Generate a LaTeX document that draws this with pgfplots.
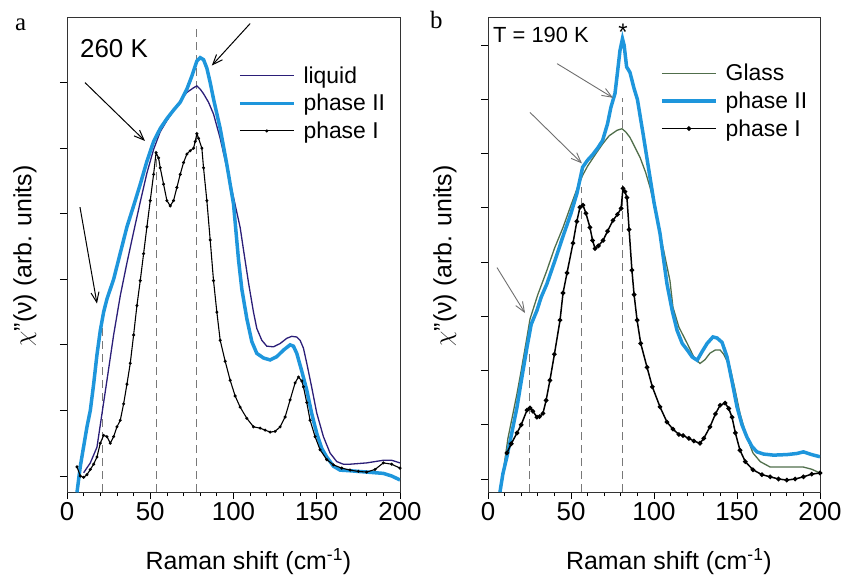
\documentclass[border=0pt]{standalone}
\usepackage{pgfplots}
\pgfplotsset{compat=1.18}
\usepackage{fontspec}
\setmainfont{Liberation Sans}
\newfontfamily\seriffont{Liberation Serif}
\usetikzlibrary{arrows.meta}
\definecolor{liquidc}{RGB}{43,30,120}
\definecolor{phIIc}{RGB}{30,150,220}
\definecolor{glassc}{RGB}{80,110,75}
\definecolor{dashc}{RGB}{120,120,120}
\definecolor{arrc}{RGB}{110,110,110}
\pgfplotsset{
  panel/.style={
    scale only axis, height=475bp,
    xmin=0, xmax=200, xtick={0,50,...,200}, minor x tick num=4,
    tick align=outside, xtick pos=bottom, ytick pos=left,
    yticklabels={},
    major tick length=7bp, minor tick length=4bp,
    every tick/.style={black, line width=0.8bp},
    axis line style={line width=0.9bp, black!80},
    tick label style={font=\fontsize{26}{30}\selectfont},
    /pgf/number format/assume math mode=true,
    xlabel={Raman shift (cm\textsuperscript{-1})},
    ylabel={$\chi$"(ν) (arb. units)},
    label style={font=\fontsize{25}{30}\selectfont},
    x label style={at={(axis description cs:0.545,-0.164)}, anchor=base},
    legend style={draw=none, fill=none, inner sep=0pt, font=\fontsize{23}{27}\selectfont, anchor=north west, row sep=5.5bp,
      /tikz/every odd column/.append style={column sep=6bp}},
    legend cell align=left,
    legend image code/.code={\draw[mark repeat=2,mark phase=2,##1] plot coordinates {(0bp,0bp) (27bp,0bp) (54bp,0bp)};},
  },
}
\begin{document}
\begin{tikzpicture}
\useasboundingbox (0,0) rectangle (844bp,-577bp);
% ---------------- panel a ----------------
\begin{axis}[panel, at={(67bp,-492bp)}, anchor=south west, width=333bp,
  ymin=-0.244, ymax=7, ytick={0,...,6},
  y label style={at={(axis description cs:-0.126,0.497)}, anchor=center},
  legend style={at={(0.513,0.9)}}]
\addplot[dashc, line width=1bp, dash pattern=on 8bp off 5bp, forget plot] coordinates {(21.6,-0.244) (21.6,2.27)};
\addplot[dashc, line width=1bp, dash pattern=on 8bp off 5bp, forget plot] coordinates {(53.5,-0.244) (53.5,4.92)};
\addplot[dashc, line width=1bp, dash pattern=on 8bp off 5bp, forget plot] coordinates {(77.5,-0.244) (77.5,6.87)};
\addplot[liquidc, line width=1.3bp] coordinates {
(10,0.05) (14,0.2) (18,0.44) (21,0.95) (24,1.46) (28,2.15) (32,2.75) (36,3.25) (40,3.72) (44,4.18) (48,4.62) (52,4.98) (56,5.25) (60,5.42) (64,5.57) (68,5.72) (72,5.85) (76,5.92) (78,5.95) (80,5.9) (82,5.83) (85,5.7) (88,5.52) (92,5.15) (96,4.7) (100,4.25) (104,3.79) (106,3.45) (109,2.95) (112,2.5) (114,2.25) (117,2.07) (120,1.98) (124,1.97) (128,2.02) (132,2.1) (135,2.13) (138,2.12) (140,2.07) (142,1.95) (144,1.72) (147,1.35) (150,0.96) (154,0.6) (158,0.35) (162,0.22) (166,0.18) (170,0.18) (180,0.2) (190,0.24) (195,0.24) (200,0.2)};
\addlegendentry{liquid}
\addplot[phIIc, line width=3.5bp] coordinates {
(6,-0.25) (8,0.15) (10,0.45) (12,0.75) (14,1.0) (16,1.4) (18,1.85) (20,2.22) (22,2.5) (24,2.7) (26,2.85) (28,3.0) (32,3.4) (36,3.8) (40,4.12) (44,4.45) (48,4.8) (52,5.1) (56,5.3) (60,5.45) (64,5.58) (68,5.7) (72,5.9) (75,6.1) (78,6.33) (80,6.38) (82,6.35) (84,6.22) (86,6.0) (88,5.75) (92,5.3) (96,4.75) (100,4.15) (103,3.3) (105,2.85) (108,2.4) (111,2.05) (114,1.87) (118,1.8) (122,1.77) (126,1.82) (130,1.92) (134,2.0) (136,1.98) (138,1.87) (141,1.6) (144,1.31) (147,0.95) (150,0.65) (153,0.42) (156,0.29) (160,0.15) (164,0.09) (170,0.08) (180,0.06) (190,0.04) (195,0.0) (200,-0.06)};
\addlegendentry{phase II}
\addplot[black, line width=1.1bp, mark=*, mark size=0.9bp] coordinates {
(6,0.14) (8,0.0) (10,-0.02) (12,0.02) (14,0.1) (16,0.18) (18,0.29) (20,0.5) (22,0.62) (24,0.6) (26,0.5) (28,0.6) (30,0.75) (32,0.85) (34,1.1) (36,1.4) (38,1.72) (40,2.15) (42,2.6) (44,2.98) (46,3.39) (48,3.8) (50,4.2) (52,4.6) (53.5,4.93) (55,4.85) (56,4.7) (58,4.45) (60,4.2) (62,4.12) (64,4.2) (66,4.4) (68,4.6) (70,4.78) (72,4.91) (74,4.96) (76,5.0) (77,5.1) (78,5.22) (79,5.15) (81,5.0) (82,4.7) (84,4.2) (86,3.6) (88,2.98) (90,2.5) (92,2.07) (95,1.75) (98,1.46) (101,1.22) (104,1.05) (108,0.88) (112,0.75) (116,0.73) (119,0.7) (122,0.67) (125,0.68) (128,0.75) (131,0.9) (134,1.16) (137,1.42) (139,1.51) (141,1.45) (142,1.36) (144,1.12) (146,0.85) (149,0.6) (152,0.4) (156,0.25) (160,0.17) (165,0.12) (170,0.09) (175,0.07) (180,0.06) (185,0.1) (190,0.2) (195,0.18) (200,0.12)};
\addlegendentry{phase I}
\draw[black, line width=1bp, -{Straight Barb[length=10bp,width=8bp]}] (axis cs:110,6.9) -- (axis cs:87,6.26);
\draw[black, line width=1bp, -{Straight Barb[length=10bp,width=8bp]}] (axis cs:10.8,6.0) -- (axis cs:46.8,5.11);
\draw[black, line width=1bp, -{Straight Barb[length=10bp,width=8bp]}] (axis cs:7.8,4.1) -- (axis cs:18,2.63);
\node[anchor=base west, inner sep=0pt, font=\fontsize{26}{30}\selectfont] at (axis cs:7.8,6.38) {260 K};
\end{axis}
% ---------------- panel b ----------------
\begin{axis}[panel, at={(488bp,-492bp)}, anchor=south west, width=332bp,
  ymin=-0.24, ymax=8.52, ytick={0,...,8},
  y label style={at={(axis description cs:-0.13,0.497)}, anchor=center},
  legend style={at={(0.518,0.905)}}]
\addplot[dashc, line width=1bp, dash pattern=on 8bp off 5bp, forget plot] coordinates {(24.7,-0.24) (24.7,2.38)};
\addplot[dashc, line width=1bp, dash pattern=on 8bp off 5bp, forget plot] coordinates {(56.6,-0.24) (56.6,5.38)};
\addplot[dashc, line width=1bp, dash pattern=on 8bp off 5bp, forget plot] coordinates {(81.3,-0.24) (81.3,7.03)};
\addplot[glassc, line width=1.3bp] coordinates {
(9,0.1) (12,0.75) (15,1.2) (17.5,1.58) (20,2.0) (23.5,2.62) (25.3,2.95) (30,3.4) (35.5,3.85) (40,4.25) (45.2,4.64) (50,5.05) (53.6,5.35) (57,5.6) (60,5.77) (65,6.0) (69.3,6.19) (73,6.33) (77.7,6.43) (80.7,6.46) (83,6.4) (85.5,6.3) (88,6.15) (91.6,5.93) (95,5.65) (97.6,5.38) (100.6,5.0) (103.6,4.53) (106.6,4.1) (109.6,3.66) (111.4,3.17) (115,2.8) (120,2.5) (124,2.25) (127.7,2.13) (130.7,2.2) (133.7,2.32) (137,2.38) (139.8,2.38) (142,2.3) (145.8,2.06) (148.8,1.65) (151.8,1.21) (155.6,0.8) (159.6,0.48) (164,0.32) (170,0.22) (180,0.22) (190,0.22) (195,0.18) (200,0.11)};
\addlegendentry{Glass}
\addplot[phIIc, line width=3.5bp] coordinates {
(7.2,-0.24) (9,0.1) (11.4,0.41) (14,0.8) (17.5,1.33) (20,1.8) (23.5,2.43) (26,2.85) (29.5,3.11) (32,3.35) (35.5,3.6) (40,4.0) (45,4.46) (50,4.9) (53.6,5.27) (57,5.75) (60,5.88) (63,5.98) (66,6.1) (69,6.24) (72,6.55) (74,6.85) (76.5,7.11) (78,7.5) (79.5,7.9) (81,8.12) (82,8.0) (83.5,7.6) (85.5,7.5) (88,7.2) (90,7.0) (93.4,6.37) (97.6,5.56) (100,5.1) (103.6,4.53) (107.8,3.6) (111,3.1) (113.9,2.74) (117,2.5) (120,2.38) (123,2.25) (126,2.19) (129,2.35) (132,2.5) (135.5,2.62) (138,2.6) (141,2.52) (144,2.25) (147,1.8) (150,1.33) (153,1.0) (156,0.77) (159,0.6) (162,0.5) (166,0.46) (172,0.44) (180,0.45) (186,0.47) (190,0.5) (195,0.45) (200,0.41)};
\addlegendentry{phase II}
\addplot[black, line width=1.5bp, mark=*, mark size=1.5bp] coordinates {
(11.4,0.48) (14,0.65) (17.5,0.85) (20,1.0) (23.5,1.27) (25.3,1.31) (27,1.25) (29.5,1.14) (31,1.15) (33.1,1.21) (35,1.45) (37.3,1.82) (40,2.3) (43.4,2.93) (45.2,3.43) (47.6,3.8) (51.2,4.35) (53.5,4.75) (55.4,5.01) (57.2,5.05) (59,4.9) (61.4,4.64) (63,4.4) (64.5,4.25) (66.5,4.3) (69.3,4.4) (72,4.57) (75.3,4.77) (78,4.88) (80.2,4.99) (81.3,5.36) (82.5,5.3) (83.7,5.19) (85,4.6) (86.7,3.85) (88,3.4) (89.8,2.93) (92,2.5) (95.8,2.06) (99,1.7) (103.6,1.33) (107.8,1.05) (111.4,0.92) (115,0.82) (117.5,0.8) (121,0.75) (124,0.7) (127.7,0.66) (130,0.75) (133.7,0.96) (137,1.2) (139.8,1.36) (142.8,1.4) (145,1.3) (147,1.14) (149,0.85) (151.8,0.53) (155,0.32) (159.6,0.17) (165,0.08) (170,0.04) (175,0.0) (180,-0.02) (185,0.0) (190,0.04) (195,0.09) (200,0.11)};
\addlegendentry{phase I}
\draw[arrc, line width=0.9bp, -{Straight Barb[length=10bp,width=8bp]}] (axis cs:41.6,7.66) -- (axis cs:75.3,7.03);
\draw[arrc, line width=0.9bp, -{Straight Barb[length=10bp,width=8bp]}] (axis cs:25.3,6.76) -- (axis cs:56.6,5.82);
\draw[arrc, line width=0.9bp, -{Straight Barb[length=10bp,width=8bp]}] (axis cs:5.4,3.9) -- (axis cs:22.3,3.06);
\node[anchor=base west, inner sep=0pt, font=\fontsize{22}{26}\selectfont] at (axis cs:3.0,8.05) {T = 190 K};
\node[anchor=center, inner sep=0pt, font=\fontsize{24}{28}\selectfont] at (axis cs:81.3,8.24) {*};
\end{axis}
\node[anchor=base west, inner sep=0pt, font=\seriffont\fontsize{25}{30}\selectfont] at (15bp,-30bp) {a};
\node[anchor=base west, inner sep=0pt, font=\seriffont\fontsize{25}{30}\selectfont] at (430bp,-28bp) {b};
\end{tikzpicture}
\end{document}
